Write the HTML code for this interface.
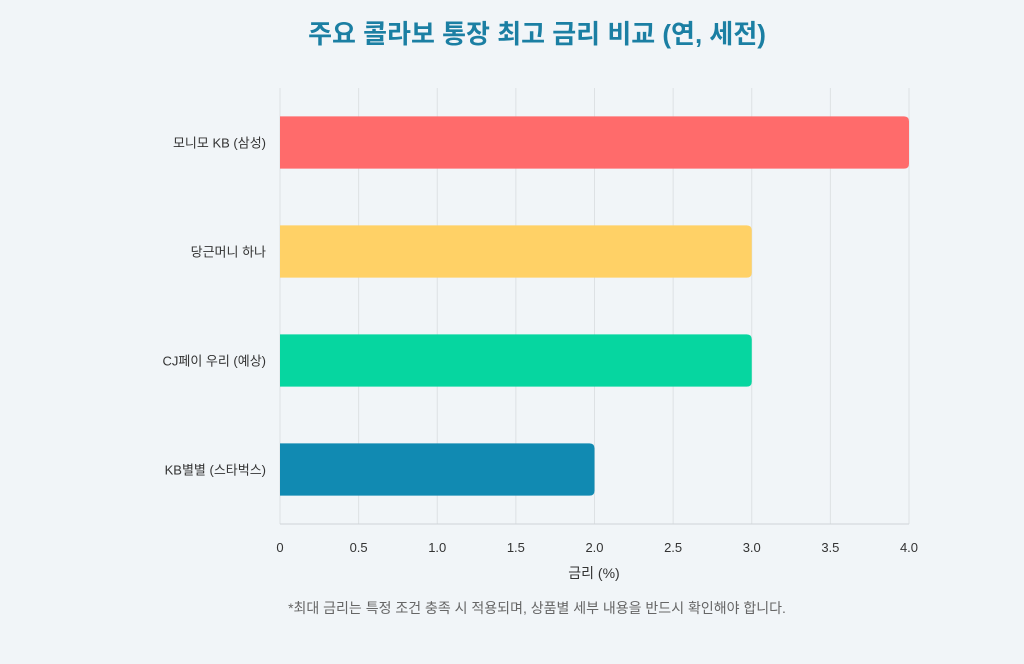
<!DOCTYPE html>
<html><head><meta charset="utf-8">
<style>
html,body{margin:0;padding:0;background:#f1f5f8;}
body{width:1024px;height:659px;overflow:hidden;font-family:"Liberation Sans","Noto Sans CJK KR",sans-serif;}
</style></head>
<body>
<svg width="1024" height="659" viewBox="0 0 1024 659" xmlns="http://www.w3.org/2000/svg" style="font-family:'Liberation Sans','Noto Sans CJK KR',sans-serif">
<text x="537" y="43" text-anchor="middle" font-size="26" font-weight="bold" fill="#1b7fa3">주요 콜라보 통장 최고 금리 비교 (연, 세전)</text>
<g id="grid"></g>
<g id="bars"></g>
<g id="ylabels"></g>
<g id="xticks"></g>
<line x1="280" y1="524" x2="909" y2="524" stroke="#cfd4d8" stroke-width="1"/>
<text x="594" y="578" text-anchor="middle" font-size="14" fill="#333">금리 (%)</text>
<text x="537" y="613" text-anchor="middle" font-size="14" fill="#666">*최대 금리는 특정 조건 충족 시 적용되며, 상품별 세부 내용을 반드시 확인해야 합니다.</text>
</svg>
<script>
const categories=["모니모 KB (삼성)","당근머니 하나","CJ페이 우리 (예상)","KB별별 (스타벅스)"];
const rates=[4.0,3.0,3.0,2.0];
const colors=["#ff6b6b","#ffd166","#06d6a0","#118ab2"];
const ticks=[0,0.5,1.0,1.5,2.0,2.5,3.0,3.5,4.0];
const tickLabels=["0","0.5","1.0","1.5","2.0","2.5","3.0","3.5","4.0"];
const NS="http://www.w3.org/2000/svg";
const x0=280,x1=909,yTop=88,yBot=524,xMax=4.0;
const xs=v=>x0+(v/xMax)*(x1-x0);
const band=(yBot-yTop)/categories.length;
const yc=i=>yTop+band*(i+0.5);
const bh=band*0.48;
function mk(t,a){const e=document.createElementNS(NS,t);for(const k in a)e.setAttribute(k,a[k]);return e;}
const grid=document.getElementById('grid'),bars=document.getElementById('bars'),yl=document.getElementById('ylabels'),xt=document.getElementById('xticks');
ticks.forEach((t,i)=>{
 const l=mk('line',{x1:xs(t),x2:xs(t),y1:yTop,y2:yBot,stroke:'#dde1e4','stroke-width':1});
 
 
 grid.appendChild(l);
 const tx=mk('text',{x:xs(t),y:552,'text-anchor':'middle','font-size':13,fill:'#333'});
 tx.textContent=tickLabels[i];
 
 
 xt.appendChild(tx);
});
categories.forEach((c,i)=>{
 const w=xs(rates[i])-x0,y=yc(i)-bh/2,r=5;
 const d=`M${x0},${y} H${x0+w-r} Q${x0+w},${y} ${x0+w},${y+r} V${y+bh-r} Q${x0+w},${y+bh} ${x0+w-r},${y+bh} H${x0} Z`;
 const p=mk('path',{d:d,fill:colors[i]});
 
 
 bars.appendChild(p);
 const t=mk('text',{x:266,y:yc(i)+5,'text-anchor':'end','font-size':13,fill:'#333'});
 t.textContent=c;
 
 
 yl.appendChild(t);
});
</script>
</body></html>
